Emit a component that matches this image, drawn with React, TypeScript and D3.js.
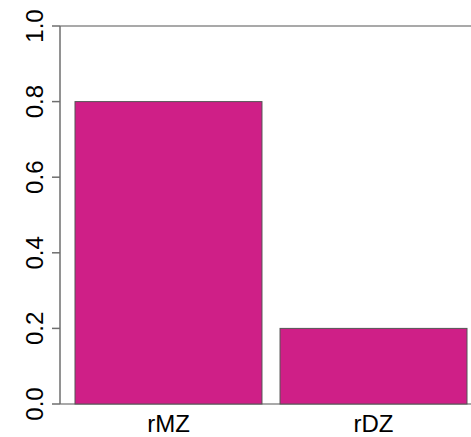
import React, { useRef, useEffect } from 'react';
import * as d3 from 'd3';

const categories = ['rMZ', 'rDZ'];
const values = [0.8, 0.2];
const yTicks = [0, 0.2, 0.4, 0.6, 0.8, 1.0];

const App: React.FC = () => {
  const svgRef = useRef<SVGSVGElement>(null);

  useEffect(() => {
    if (!svgRef.current) return;
    const width = 471;
    const height = 437;
    const left = 60;
    const top = 26;
    const bottom = 404;

    const svg = d3.select(svgRef.current);
    svg.selectAll('*').remove();

    const y = d3.scaleLinear().domain([0, 1]).range([bottom, top]);
    const x = d3.scaleBand<string>()
      .domain(categories)
      .range([75, 467])
      .paddingInner(0.088)
      .paddingOuter(0);

    // frame lines: top and bottom
    svg.append('g')
      .attr('stroke', '#8c8c8c')
      .attr('stroke-width', 1.5)
      .selectAll('line')
      .data([1, 0])
      .join('line')
      .attr('x1', left)
      .attr('x2', width)
      .attr('y1', d => y(d))
      .attr('y2', d => y(d));

    svg.append('g')
      .selectAll('rect')
      .data(values)
      .join('rect')
      .attr('x', (_, i) => x(categories[i])!)
      .attr('width', x.bandwidth())
      .attr('y', d => y(d))
      .attr('height', d => y(0) - y(d))
      .attr('fill', '#CF1F87')
      .attr('stroke', '#555')
      .attr('stroke-width', 1);

    // y axis
    const ax = svg.append('g');
    ax.append('line')
      .attr('x1', left).attr('x2', left)
      .attr('y1', y(0)).attr('y2', y(1))
      .attr('stroke', '#6e6e6e').attr('stroke-width', 1.5);
    ax.selectAll('line.tick')
      .data(yTicks)
      .join('line')
      .attr('class', 'tick')
      .attr('x1', left - 8).attr('x2', left)
      .attr('y1', d => y(d)).attr('y2', d => y(d))
      .attr('stroke', '#6e6e6e').attr('stroke-width', 1.5);
    ax.selectAll('text')
      .data(yTicks)
      .join('text')
      .attr('transform', d => `translate(43,${y(d)}) rotate(-90)`)
      .attr('text-anchor', 'middle')
      .attr('font-family', 'Liberation Sans, Arial, sans-serif')
      .attr('font-size', 24)
      .attr('fill', '#000')
      .text(d => d3.format('.1f')(d));

    // category labels
    svg.append('g')
      .selectAll('text')
      .data(categories)
      .join('text')
      .attr('x', d => x(d)! + x.bandwidth() / 2)
      .attr('y', 432)
      .attr('text-anchor', 'middle')
      .attr('font-family', 'Liberation Sans, Arial, sans-serif')
      .attr('font-size', 24)
      .attr('fill', '#000')
      .text(d => d);

    svg.attr('width', width).attr('height', height);
  }, []);

  return (
    <svg ref={svgRef} width={471} height={437}
      style={{ position: 'absolute', left: 0, top: 0, background: '#fff' }} />
  );
};

export default App;
